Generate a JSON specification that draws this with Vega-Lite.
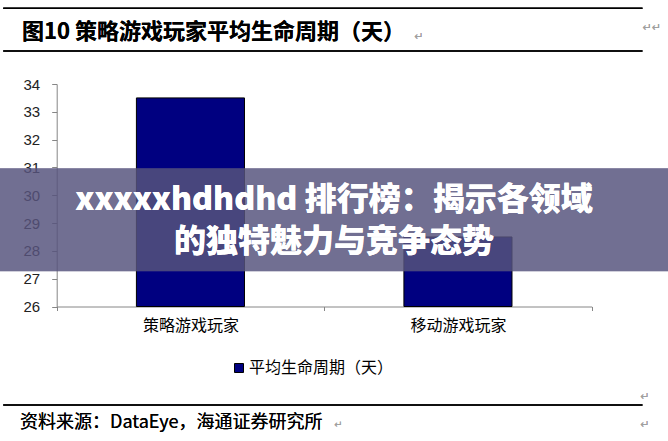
{
  "$schema": "https://vega.github.io/schema/vega-lite/v6.json",
  "width": 668,
  "height": 441,
  "autosize": {"type": "none"},
  "padding": 0,
  "background": "white",
  "config": {"view": {"stroke": null}, "font": "Noto Sans CJK SC"},
  "data": {
    "values": [
      {"category": "策略游戏玩家", "value": 33.5, "series": "平均生命周期（天）"},
      {"category": "移动游戏玩家", "value": 28.5, "series": "平均生命周期（天）"}
    ]
  },
  "layer": [
    {
      "mark": {"type": "bar", "stroke": "black", "strokeWidth": 1, "width": {"band": 0.404}},
      "encoding": {
        "x": {
          "field": "category",
          "type": "nominal",
          "sort": null,
          "scale": {"range": [56.7, 591.7], "paddingInner": 0, "paddingOuter": 0},
          "axis": {
            "title": null,
            "orient": "bottom",
            "offset": -134.5,
            "labelAngle": 0,
            "tickBand": "extent",
            "domainColor": "#868686",
            "tickColor": "#868686",
            "tickSize": 4,
            "labelFont": "Noto Sans CJK SC",
            "labelFontSize": 16,
            "labelColor": "black",
            "labelPadding": 7
          }
        },
        "y": {
          "field": "value",
          "type": "quantitative",
          "scale": {"domain": [26, 34], "range": [306.5, 84], "nice": false, "zero": false},
          "axis": {
            "title": null,
            "offset": -56.7,
            "values": [26, 27, 28, 29, 30, 31, 32, 33, 34],
            "format": "d",
            "grid": false,
            "domainColor": "#868686",
            "tickColor": "#868686",
            "tickSize": 5,
            "labelFont": "Liberation Sans",
            "labelFontSize": 15,
            "labelColor": "#222222",
            "labelPadding": 12
          }
        },
        "y2": {"datum": 26},
        "color": {
          "field": "series",
          "type": "nominal",
          "scale": {"range": ["#000080"]},
          "legend": {
            "title": null,
            "orient": "none",
            "legendX": 231,
            "legendY": 360,
            "symbolType": "square",
            "symbolSize": 81,
            "symbolStrokeColor": "black",
            "symbolStrokeWidth": 1,
            "labelFont": "Noto Sans CJK SC",
            "labelFontSize": 16,
            "labelColor": "black",
            "labelOffset": 2,
            "padding": 0
          }
        }
      }
    },
    {
      "mark": {"type": "rule", "color": "black", "strokeWidth": 1.5},
      "encoding": {
        "y": {"datum": 36.722},
        "x": {"datum": "策略游戏玩家", "bandPosition": -0.2},
        "x2": {"datum": "移动游戏玩家", "bandPosition": 1.19}
      }
    },
    {
      "mark": {"type": "rule", "color": "black", "strokeWidth": 1.5},
      "encoding": {
        "y": {"datum": 35.187},
        "x": {"datum": "策略游戏玩家", "bandPosition": -0.2},
        "x2": {"datum": "移动游戏玩家", "bandPosition": 1.19}
      }
    },
    {
      "mark": {"type": "rule", "color": "black", "strokeWidth": 1.5},
      "encoding": {
        "y": {"datum": 22.458},
        "x": {"datum": "策略游戏玩家", "bandPosition": -0.2},
        "x2": {"datum": "移动游戏玩家", "bandPosition": 1.19}
      }
    },
    {
      "mark": {"type": "text", "align": "left", "baseline": "middle", "fontSize": 22, "fontWeight": "bold", "color": "black"},
      "encoding": {
        "x": {"datum": "策略游戏玩家", "bandPosition": -0.13},
        "y": {"datum": 35.87},
        "text": {"value": "图10 策略游戏玩家平均生命周期（天）"}
      }
    },
    {
      "mark": {"type": "text", "align": "left", "baseline": "middle", "fontSize": 18, "color": "black"},
      "encoding": {
        "x": {"datum": "策略游戏玩家", "bandPosition": -0.137},
        "y": {"datum": 21.811},
        "text": {"value": "资料来源：DataEye，海通证券研究所"}
      }
    },
    {
      "mark": {"type": "text", "align": "center", "baseline": "middle", "fontSize": 11, "font": "DejaVu Sans", "color": "#a0a0a0"},
      "encoding": {
        "x": {"datum": "移动游戏玩家", "bandPosition": 0.355},
        "y": {"datum": 35.69},
        "text": {"value": "↵"}
      }
    },
    {
      "mark": {"type": "text", "align": "center", "baseline": "middle", "fontSize": 11, "font": "DejaVu Sans", "color": "#a0a0a0"},
      "encoding": {
        "x": {"datum": "移动游戏玩家", "bandPosition": 1.225},
        "y": {"datum": 36.0},
        "text": {"value": "↵↵"}
      }
    },
    {
      "mark": {"type": "text", "align": "center", "baseline": "middle", "fontSize": 11, "font": "DejaVu Sans", "color": "#a0a0a0"},
      "encoding": {
        "x": {"datum": "移动游戏玩家", "bandPosition": 1.2},
        "y": {"datum": 22.746},
        "text": {"value": "↵"}
      }
    },
    {
      "mark": {"type": "text", "align": "center", "baseline": "middle", "fontSize": 11, "font": "DejaVu Sans", "color": "#a0a0a0"},
      "encoding": {
        "x": {"datum": "移动游戏玩家", "bandPosition": 1.2},
        "y": {"datum": 21.739},
        "text": {"value": "↵"}
      }
    },
    {
      "mark": {"type": "text", "align": "center", "baseline": "middle", "fontSize": 10, "font": "DejaVu Sans", "color": "#a0a0a0"},
      "encoding": {
        "x": {"datum": "移动游戏玩家", "bandPosition": 0.052},
        "y": {"datum": 21.739},
        "text": {"value": "↵"}
      }
    },
    {
      "mark": {"type": "rect", "fill": "#57537d", "opacity": 0.6},
      "encoding": {
        "y": {"datum": 30.969},
        "y2": {"datum": 27.266}
      }
    },
    {
      "mark": {"type": "text", "align": "center", "baseline": "middle", "fontSize": 32, "fontWeight": 900, "lineHeight": 42, "color": "white"},
      "encoding": {
        "y": {"datum": 29.829},
        "text": {"value": ["xxxxxhdhdhd 排行榜：揭示各领域", "的独特魅力与竞争态势"]}
      }
    }
  ]
}
